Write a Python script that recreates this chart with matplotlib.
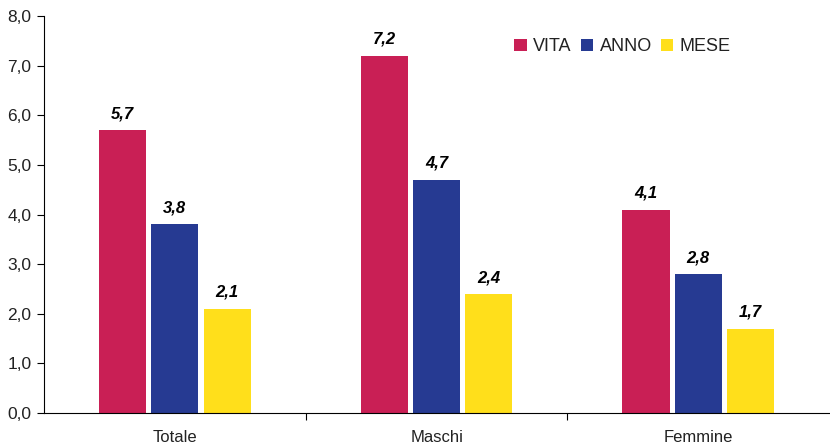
from matplotlib import pyplot as plt
import numpy as np

plt.rcParams['font.family'] = ['Liberation Sans', 'DejaVu Sans']

categories = ["Totale", "Maschi", "Femmine"]
series = ["VITA", "ANNO", "MESE"]
vita = [5.7, 7.2, 4.1]
anno = [3.8, 4.7, 2.8]
mese = [2.1, 2.4, 1.7]
colors = ["#C91F55", "#263A92", "#FFDF1B"]

fig = plt.figure(figsize=(8.3, 4.47), dpi=100)
ax = fig.add_axes([0.053, 0.076, 0.946, 0.888])

x = np.arange(len(categories))
width = 0.18
for i, (name, vals, c) in enumerate(zip(series, [vita, anno, mese], colors)):
    pos = x + (i - 1) * 0.2
    ax.bar(pos, vals, width, color=c, label=name)
    for p, v in zip(pos, vals):
        ax.text(p, v + 0.18, f"{v:.1f}".replace(".", ","), ha="center", va="bottom",
                fontsize=12, fontweight="bold", fontstyle="italic")

ax.set_xlim(-0.5, 2.5)
ax.set_ylim(0, 8)
ax.set_yticks(np.arange(0, 8.1, 1))
ax.set_yticklabels([f"{t:.1f}".replace(".", ",") for t in np.arange(0, 8.1, 1)], fontsize=12.5,
                   color="#222222")
ax.set_xticks([0.5, 1.5], minor=False)
ax.set_xticklabels([])
ax.set_xticks(x, minor=True)
ax.set_xticklabels(categories, minor=True, fontsize=12, color="#222222")
ax.tick_params(axis="x", which="minor", length=0, pad=12)
ax.tick_params(axis="x", which="major", length=5, direction="out")
ax.tick_params(axis="y", length=5, direction="out", pad=4)
ax.spines[["right", "top"]].set_visible(False)

ax.legend(loc="upper left", bbox_to_anchor=(0.578, 0.985), ncol=3, frameon=False,
          fontsize=13, handlelength=0.7, handleheight=0.7, handletextpad=0.35,
          columnspacing=0.5, labelcolor="#222222")

fig.savefig("out.png", dpi=100)
